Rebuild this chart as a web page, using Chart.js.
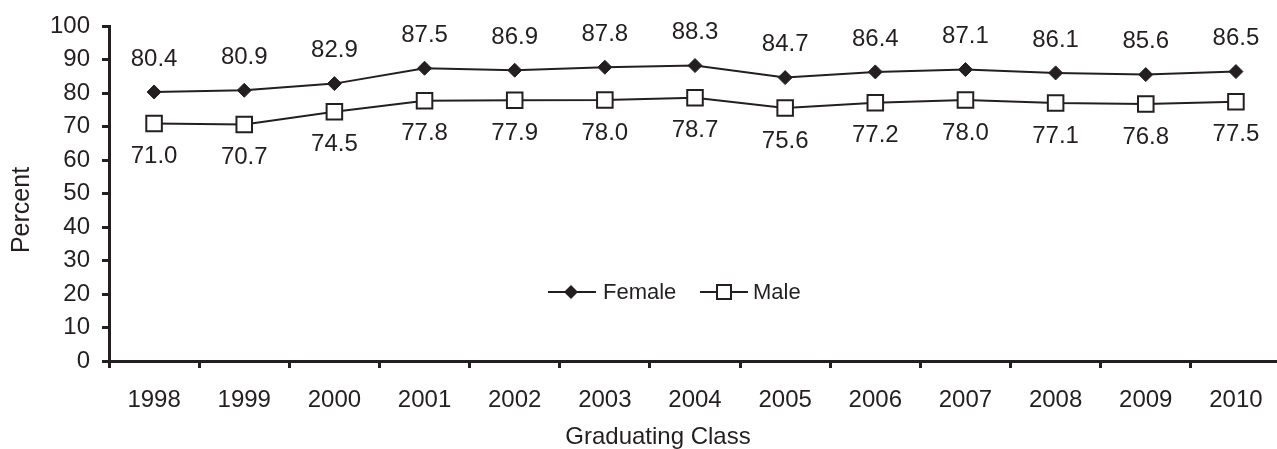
<!DOCTYPE html>
<html>
<head>
<meta charset="utf-8">
<script src="https://cdn.jsdelivr.net/npm/chart.js@4/dist/chart.umd.min.js"></script>
<style>
  html, body { margin: 0; padding: 0; background: #fff; overflow: hidden; }
  #wrap { width: 1277px; height: 449px; overflow: hidden; }
</style>
</head>
<body>
<div id="wrap"><canvas id="grad_chart" width="1281" height="449"></canvas></div>
<script>
(function () {
	'use strict';

	const classes   = ['1998', '1999', '2000', '2001', '2002', '2003', '2004', '2005', '2006', '2007', '2008', '2009', '2010'];
	const female    = [80.4, 80.9, 82.9, 87.5, 86.9, 87.8, 88.3, 84.7, 86.4, 87.1, 86.1, 85.6, 86.5];
	const male      = [71.0, 70.7, 74.5, 77.8, 77.9, 78.0, 78.7, 75.6, 77.2, 78.0, 77.1, 76.8, 77.5];
	const yTicks    = [0, 10, 20, 30, 40, 50, 60, 70, 80, 90, 100];

	const ink    = '#231f20';
	const family = '"Liberation Sans", Arial, sans-serif';

	// value labels: female above the points, male below
	const valueLabels = {
		id: 'valueLabels',
		afterDatasetsDraw(chart) {
			const ctx = chart.ctx;
			ctx.save();
			ctx.font = '24px ' + family;
			ctx.fillStyle = ink;
			ctx.textAlign = 'center';
			ctx.textBaseline = 'middle';
			chart.data.datasets.forEach((ds, i) => {
				const meta = chart.getDatasetMeta(i);
				const shift = i === 0 ? -33 : 33;
				meta.data.forEach((pt, j) => {
					ctx.fillText(ds.data[j].toFixed(1), pt.x, pt.y + shift);
				});
			});
			ctx.restore();
		}
	};

	// legend inside the plot (line through the marker) and the two axis titles
	const innerLegend = {
		id: 'innerLegend',
		afterDraw(chart) {
			const ctx = chart.ctx;
			const y = 292;
			ctx.save();
			ctx.strokeStyle = ink;
			ctx.fillStyle = ink;
			ctx.lineWidth = 2;
			// Female
			ctx.beginPath();
			ctx.moveTo(548, y); ctx.lineTo(596, y); ctx.stroke();
			ctx.beginPath();
			ctx.moveTo(564, y); ctx.lineTo(571, y - 7); ctx.lineTo(578, y); ctx.lineTo(571, y + 7);
			ctx.closePath(); ctx.fill();
			// Male
			ctx.beginPath();
			ctx.moveTo(700, y); ctx.lineTo(748, y); ctx.stroke();
			ctx.fillStyle = '#ffffff';
			ctx.fillRect(717, y - 7, 14, 14);
			ctx.strokeRect(717, y - 7, 14, 14);

			ctx.fillStyle = ink;
			ctx.font = '22px ' + family;
			ctx.textAlign = 'left';
			ctx.textBaseline = 'middle';
			ctx.fillText(chart.data.datasets[0].label, 603, y + 1);
			ctx.fillText(chart.data.datasets[1].label, 753, y + 1);

			// x axis title
			ctx.font = '24px ' + family;
			ctx.textAlign = 'center';
			ctx.fillText('Graduating Class', 658, 437);

			// y axis title
			ctx.font = '25px ' + family;
			ctx.translate(22, 210);
			ctx.rotate(-Math.PI / 2);
			ctx.fillText('Percent', 0, 0);
			ctx.restore();
		}
	};

	const ctx = document.getElementById('grad_chart').getContext('2d');

	new Chart(ctx, {
		type: 'line',
		data: {
			labels: classes,
			datasets: [{
				label: 'Female',
				data: female,
				borderColor: ink,
				borderWidth: 2,
				tension: 0,
				pointStyle: 'rectRot',
				pointRadius: 7,
				pointBackgroundColor: ink,
				pointBorderColor: ink,
				pointBorderWidth: 1
			}, {
				label: 'Male',
				data: male,
				borderColor: ink,
				borderWidth: 2,
				tension: 0,
				pointStyle: 'rect',
				pointRadius: 11,
				pointBackgroundColor: '#ffffff',
				pointBorderColor: ink,
				pointBorderWidth: 2
			}]
		},
		options: {
			responsive: false,
			animation: false,
			layout: { autoPadding: false, padding: { top: 24, right: 0, bottom: 0, left: 0 } },
			plugins: {
				legend: { display: false },
				tooltip: { enabled: false }
			},
			scales: {
				x: {
					type: 'category',
					offset: true,
					afterFit: (scale) => { scale.height = 88; },
					grid: {
						offset: true,
						drawOnChartArea: false,
						drawTicks: true,
						tickLength: 7,
						tickWidth: 3,
						tickColor: ink
					},
					border: { display: true, color: ink, width: 3 },
					ticks: {
						color: ink,
						padding: 18,
						maxRotation: 0,
						autoSkip: false,
						font: { family: family, size: 24 }
					}
				},
				y: {
					min: 0,
					max: 100,
					afterFit: (scale) => { scale.width = 109; },
					afterBuildTicks: (scale) => { scale.ticks = yTicks.map(v => ({ value: v })); },
					grid: {
						drawOnChartArea: false,
						drawTicks: true,
						tickLength: 7,
						tickWidth: 3,
						tickColor: ink
					},
					border: { display: true, color: ink, width: 3 },
					ticks: {
						color: ink,
						padding: 12,
						font: { family: family, size: 24 }
					}
				}
			}
		},
		plugins: [valueLabels, innerLegend]
	});
})();
</script>
</body>
</html>
